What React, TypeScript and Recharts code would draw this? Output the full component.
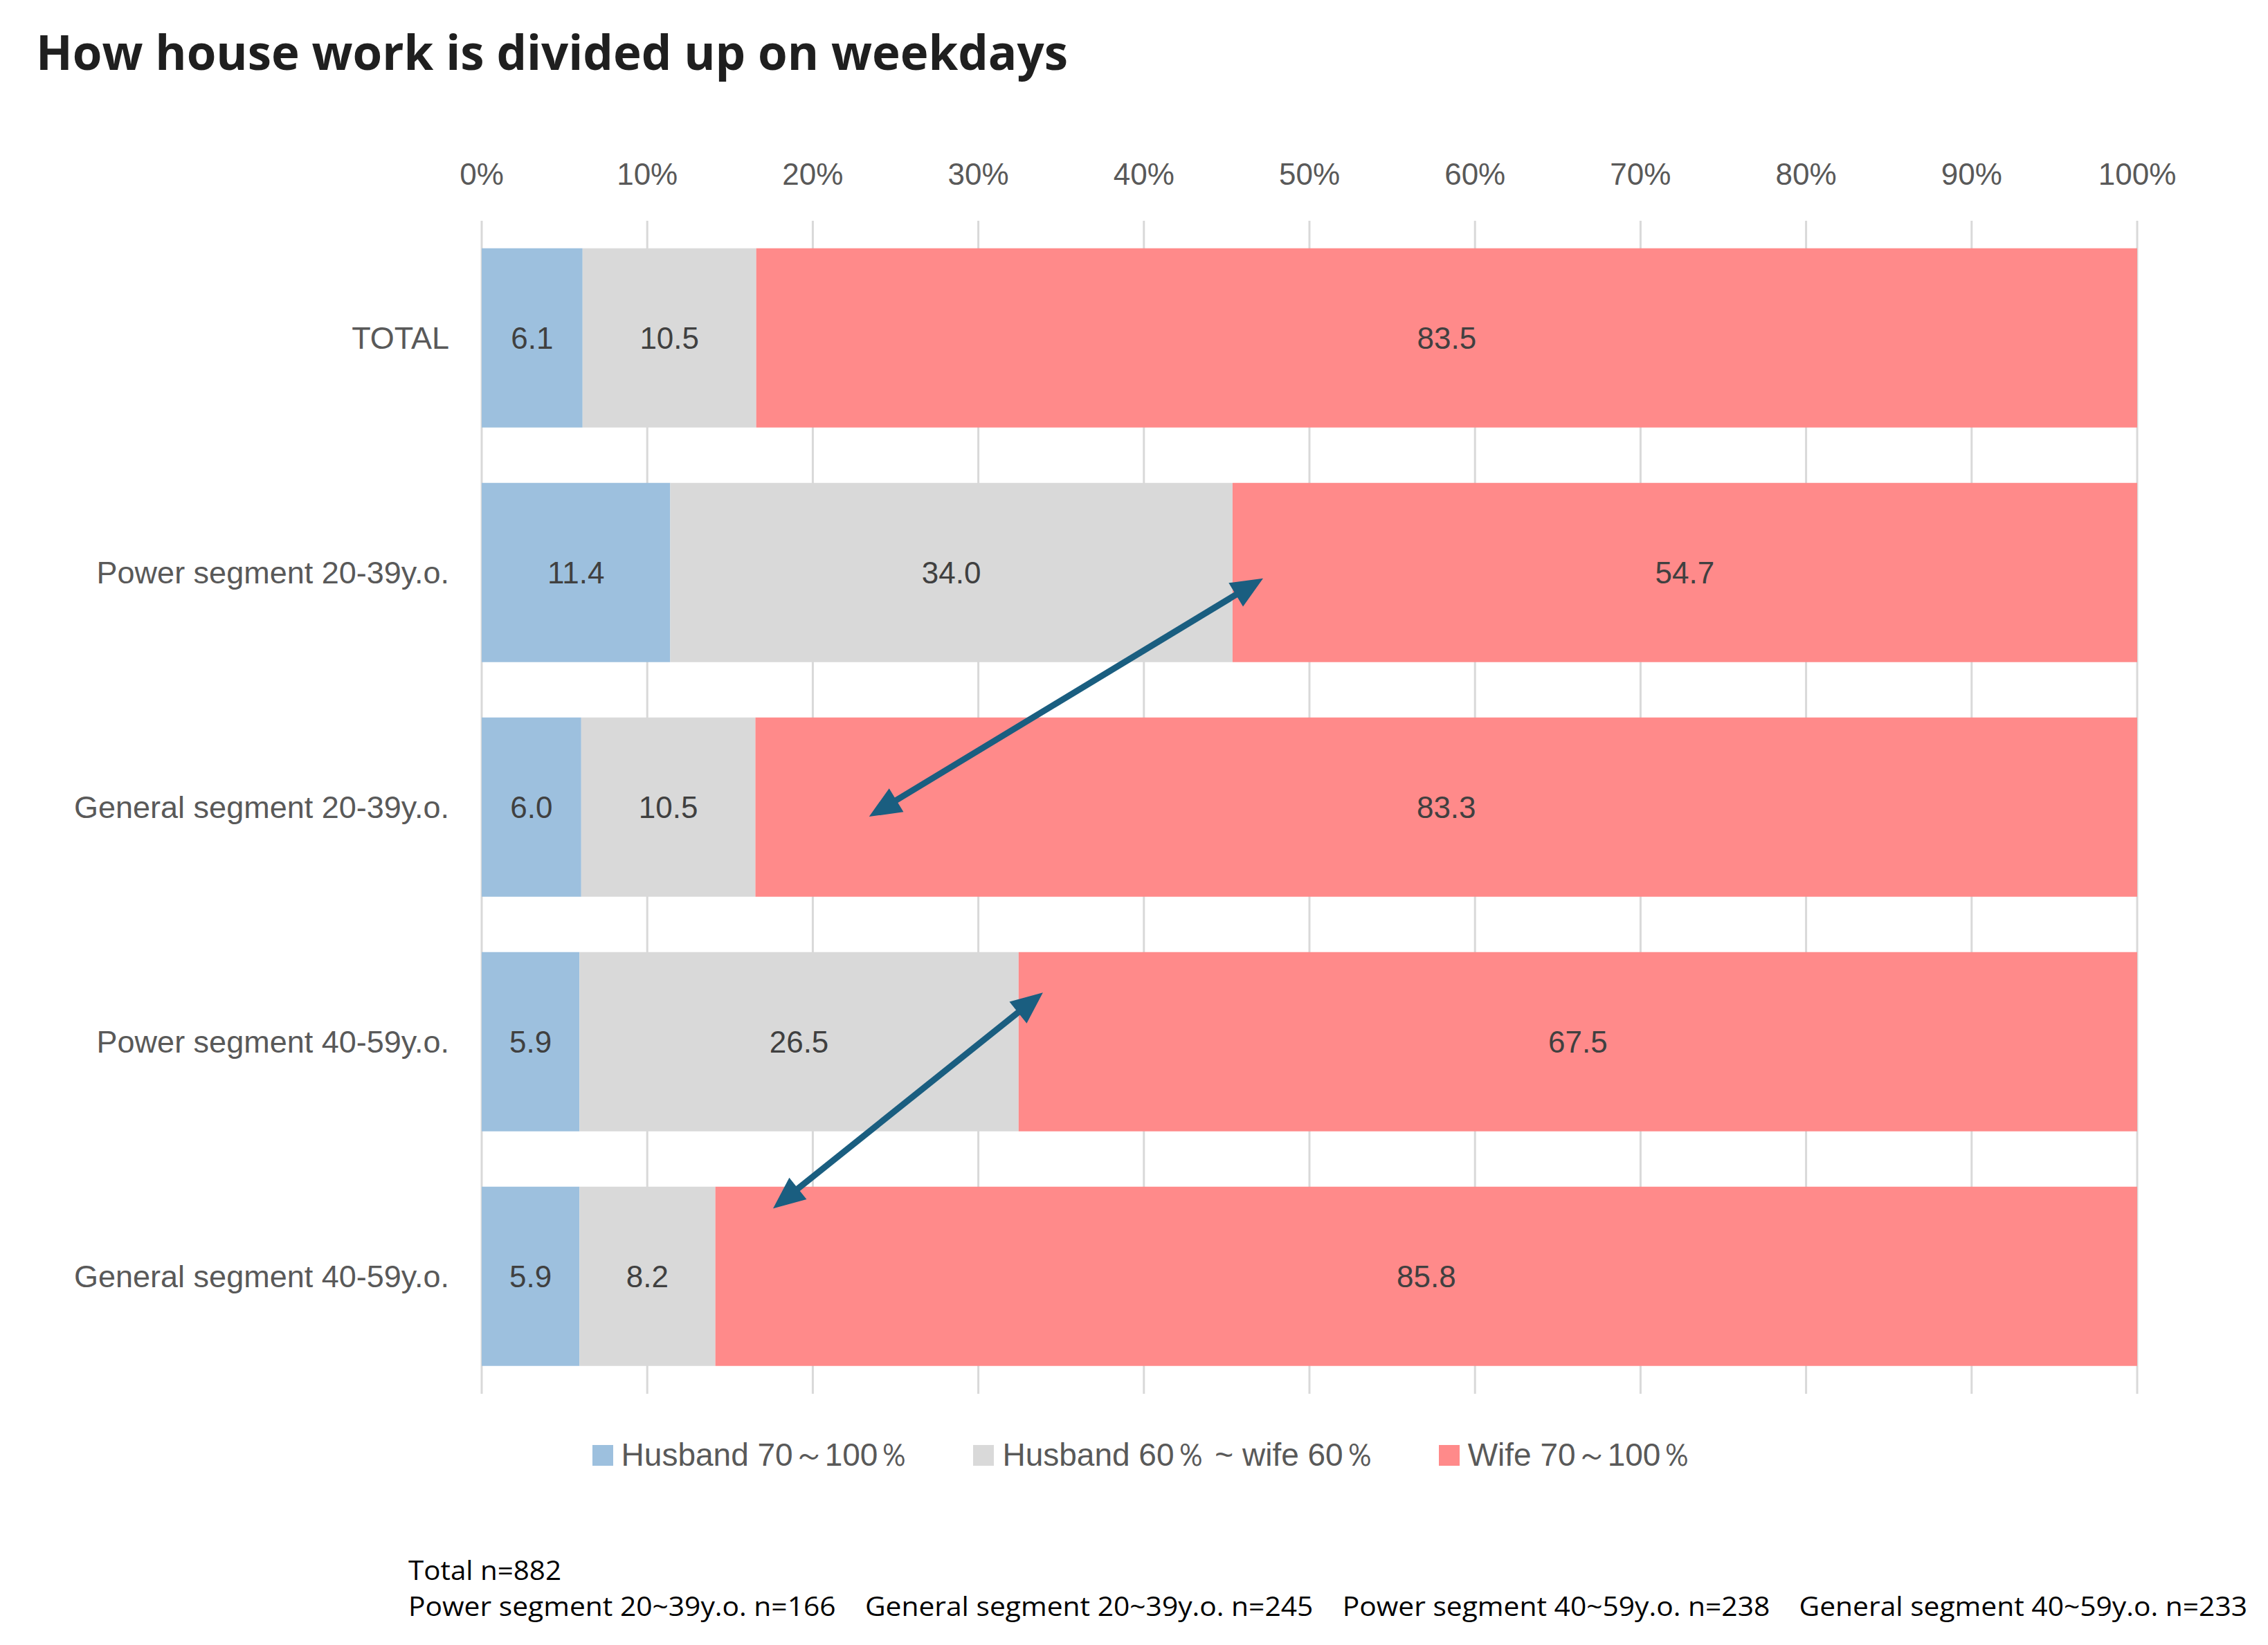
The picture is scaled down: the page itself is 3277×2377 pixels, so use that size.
import React from 'react';
import { BarChart, Bar, XAxis, YAxis, CartesianGrid, LabelList, Legend, ReferenceLine } from 'recharts';

const categories = [
  'TOTAL',
  'Power segment 20-39y.o.',
  'General segment 20-39y.o.',
  'Power segment 40-59y.o.',
  'General segment 40-59y.o.',
];
const husbandValues = [6.1, 11.4, 6.0, 5.9, 5.9];
const sharedValues = [10.5, 34.0, 10.5, 26.5, 8.2];
const wifeValues = [83.5, 54.7, 83.3, 67.5, 85.8];
const seriesKeys = ['husband', 'shared', 'wife'];
const seriesNames = ['Husband 70～100％', 'Husband 60％ ~ wife 60％', 'Wife 70～100％'];
const seriesColors = ['#9dc0de', '#d9d9d9', '#ff8a8a'];
const xTicks = [0, 0.1, 0.2, 0.3, 0.4, 0.5, 0.6, 0.7, 0.8, 0.9, 1];
// arrow annotations: x as share of bar, y in row units (row index + position within the row)
const arrows = [
  { x1: 0.472, y1: 1.524, x2: 0.234, y2: 2.54 },
  { x1: 0.339, y1: 3.29, x2: 0.176, y2: 4.21 },
];
const titleText = 'How house work is divided up on weekdays';
const noteLine1 = 'Total n=882';
const noteLine2 =
  'Power segment 20~39y.o. n=166    General segment 20~39y.o. n=245    Power segment 40~59y.o. n=238    General segment 40~59y.o. n=233';

const data = categories.map((name, i) => ({
  name,
  husband: husbandValues[i],
  shared: sharedValues[i],
  wife: wifeValues[i],
}));

const W = 3277;
const H = 2377;
const FONT = '"Liberation Sans", Arial, sans-serif';
const N = categories.length;
// the hidden positional axis spans row index 0..N-1 over the full plot height
const rowToAxis = (r: number) => (r * (N - 1)) / N;

const ArrowShape = (props: any) => {
  const { x1, y1, x2, y2 } = props;
  const dx = x2 - x1;
  const dy = y2 - y1;
  const len = Math.hypot(dx, dy) || 1;
  const ux = dx / len;
  const uy = dy / len;
  const px = -uy;
  const py = ux;
  const head = 46;
  const half = 20;
  const c = '#1a5e80';
  const p1 = `${x1},${y1} ${x1 + ux * head + px * half},${y1 + uy * head + py * half} ${x1 + ux * head - px * half},${y1 + uy * head - py * half}`;
  const p2 = `${x2},${y2} ${x2 - ux * head + px * half},${y2 - uy * head + py * half} ${x2 - ux * head - px * half},${y2 - uy * head - py * half}`;
  return (
    <g>
      <line
        x1={x1 + ux * head * 0.8}
        y1={y1 + uy * head * 0.8}
        x2={x2 - ux * head * 0.8}
        y2={y2 - uy * head * 0.8}
        stroke={c}
        strokeWidth={9}
      />
      <polygon points={p1} fill={c} />
      <polygon points={p2} fill={c} />
    </g>
  );
};

const renderLegend = () => (
  <div
    style={{
      height: 125,
      paddingTop: 64,
      paddingLeft: 24,
      boxSizing: 'border-box',
      display: 'flex',
      justifyContent: 'center',
      gap: 92,
      fontFamily: FONT,
      fontSize: 46,
      color: '#595959',
    }}
  >
    {seriesNames.map((n, i) => (
      <div key={i} style={{ display: 'flex', alignItems: 'center', height: 50 }}>
        <span style={{ display: 'inline-block', width: 30, height: 30, background: seriesColors[i], marginRight: 12 }} />
        <span style={{ whiteSpace: 'pre' }}>{n}</span>
      </div>
    ))}
  </div>
);

export default function App() {
  return (
    <div style={{ position: 'absolute', left: 0, top: 0, width: W, height: H, background: '#fff', overflow: 'hidden' }}>
      <BarChart
        width={W}
        height={2159}
        data={data}
        layout="vertical"
        stackOffset="expand"
        barCategoryGap="11.75%"
        margin={{ top: 239, right: 189, bottom: 20, left: 0 }}
      >
        <CartesianGrid horizontal={false} stroke="#d9d9d9" strokeWidth={3} />
        <XAxis
          type="number"
          orientation="top"
          domain={[0, 1]}
          ticks={xTicks}
          interval={0}
          height={80}
          tickSize={0}
          tickMargin={52}
          axisLine={false}
          tickLine={false}
          tickFormatter={(v: number) => `${Math.round(v * 100)}%`}
          tick={{ fill: '#595959', fontSize: 44, fontFamily: FONT }}
        />
        <YAxis
          type="category"
          dataKey="name"
          width={696}
          tickSize={0}
          tickMargin={47}
          axisLine={false}
          tickLine={false}
          interval={0}
          tick={{ fill: '#595959', fontSize: 45, fontFamily: FONT }}
        />
        <YAxis yAxisId="pos" type="number" domain={[0, N - 1]} hide allowDataOverflow />
        <Legend content={renderLegend} verticalAlign="bottom" wrapperStyle={{ left: 0, width: W }} />
        {seriesKeys.map((k, i) => (
          <Bar key={k} dataKey={k} name={seriesNames[i]} stackId="a" fill={seriesColors[i]} isAnimationActive={false}>
            <LabelList
              dataKey={k}
              position="center"
              formatter={(v: any) => Number(v).toFixed(1)}
              style={{ fill: '#404040', fontSize: 44, fontFamily: FONT }}
            />
          </Bar>
        ))}
        {arrows.map((a, i) => (
          <ReferenceLine
            key={i}
            yAxisId="pos"
            ifOverflow="visible"
            segment={[
              { x: a.x1, y: rowToAxis(a.y1) },
              { x: a.x2, y: rowToAxis(a.y2) },
            ]}
            shape={ArrowShape}
          />
        ))}
      </BarChart>
      <svg width={W} height={H} style={{ position: 'absolute', left: 0, top: 0, pointerEvents: 'none' }}>
        <text
          x={52}
          y={101}
          fontFamily='"Open Sans", "Noto Sans", sans-serif'
          fontWeight={700}
          fontSize={70}
          fill="#1f1f1f"
          textLength={1491}
          lengthAdjust="spacingAndGlyphs"
        >
          {titleText}
        </text>
        <text
          x={590}
          y={2283}
          fontFamily='"Open Sans", "Noto Sans", sans-serif'
          fontSize={38}
          fill="#000"
          textLength={221}
          lengthAdjust="spacingAndGlyphs"
        >
          {noteLine1}
        </text>
        <text
          x={590}
          y={2335}
          fontFamily='"Open Sans", "Noto Sans", sans-serif'
          fontSize={38}
          fill="#000"
          textLength={2657}
          lengthAdjust="spacingAndGlyphs"
          style={{ whiteSpace: 'pre' }}
        >
          {noteLine2}
        </text>
      </svg>
    </div>
  );
}
